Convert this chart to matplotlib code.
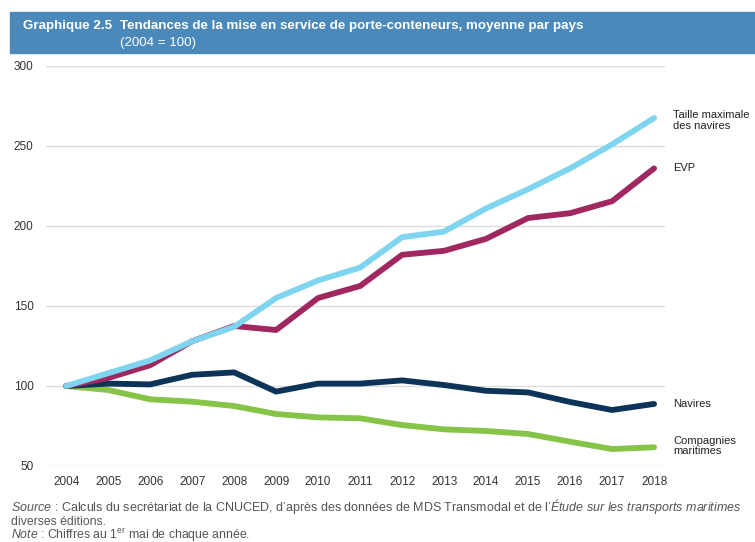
import matplotlib
matplotlib.use("Agg")
import matplotlib.pyplot as plt
from matplotlib.patches import Rectangle

# Data (2004 = 100)
years = list(range(2004, 2019))
taille_max = [100, 108, 116, 128, 137, 155, 166, 174, 193, 196.5, 211, 223, 236, 251, 267.5]
evp = [100, 105, 113, 128, 137.5, 135, 155, 162.5, 182, 184.5, 192, 205, 208, 215.5, 236]
navires = [100, 101.5, 101, 107, 108.5, 96.5, 101.5, 101.5, 103.5, 100.6, 97, 96, 90, 85, 88.8]
compagnies = [100, 97.5, 91.7, 90.2, 87.5, 82.5, 80.4, 79.8, 75.6, 72.9, 71.9, 70, 65.2, 60.6, 61.7]

series_names = ["Taille maximale\ndes navires", "EVP", "Navires", "Compagnies\nmaritimes"]
colors = ["#7fd5f0", "#a0275f", "#0c3358", "#86c447"]
label_y = [266, 236, 88.8, 62.5]

plt.rcParams["font.family"] = ["Liberation Sans", "DejaVu Sans"]
plt.rcParams["mathtext.fontset"] = "custom"
plt.rcParams["mathtext.rm"] = "Liberation Sans"
plt.rcParams["mathtext.it"] = "Liberation Sans:italic"

fig = plt.figure(figsize=(7.55, 5.42), dpi=100)
W, H = 755, 542

# title bar
fig.patches.append(Rectangle((10 / W, 1 - 53 / H), 1 - 10 / W, 41 / H,
                             transform=fig.transFigure, color="#4a89b9", zorder=0))
fig.text(23 / W, 1 - 26 / H, "Graphique 2.5", color="white", fontsize=9.6,
         fontweight="bold", va="center")
fig.text(120 / W, 1 - 26 / H, "Tendances de la mise en service de porte-conteneurs, moyenne par pays",
         color="white", fontsize=9.6, fontweight="bold", va="center")
fig.text(120 / W, 1 - 43 / H, "(2004 = 100)", color="white", fontsize=9.6, va="center")

ax = fig.add_axes([46 / W, 1 - 466 / H, 619 / W, 400 / H])
for vals, c in zip([compagnies, navires, evp, taille_max], [colors[3], colors[2], colors[1], colors[0]]):
    ax.plot(years, vals, color=c, lw=4.2, solid_capstyle="round", solid_joinstyle="round")

ax.set_xlim(2003.52, 2018.26)
ax.set_ylim(50, 300)
ax.set_yticks([50, 100, 150, 200, 250, 300])
ax.set_xticks(years)
ax.grid(axis="y", color="#dddddd", lw=1)
ax.set_axisbelow(True)
for s in ax.spines.values():
    s.set_visible(False)
ax.tick_params(length=0, labelsize=8.5, labelcolor="#333333")
ax.tick_params(axis="y", pad=9)
ax.tick_params(axis="x", pad=7)

for name, yv in zip(series_names, label_y):
    ax.annotate(name, xy=(1, yv), xycoords=("axes fraction", "data"), xytext=(6, 0),
                textcoords="offset points", fontsize=8, color="#222222",
                va="center", ha="left", linespacing=1.05, annotation_clip=False)

# footnotes
src = ("$\\it{Source}$ : Calculs du secrétariat de la CNUCED, d’après des données de MDS Transmodal "
       "et de l’$\\it{Étude\\ sur\\ les\\ transports\\ maritimes}$")
fig.text(11 / W, 1 - 511.5 / H, src, fontsize=9.0, color="#555555", va="baseline")
fig.text(11 / W, 1 - 525 / H, "diverses éditions.", fontsize=8.8, color="#555555", va="baseline")
fig.text(11 / W, 1 - 538.5 / H, "$\\it{Note}$ : Chiffres au 1$^{\\rm er}$ mai de chaque année.",
         fontsize=8.8, color="#555555", va="baseline")

fig.savefig("out.png", dpi=100)
